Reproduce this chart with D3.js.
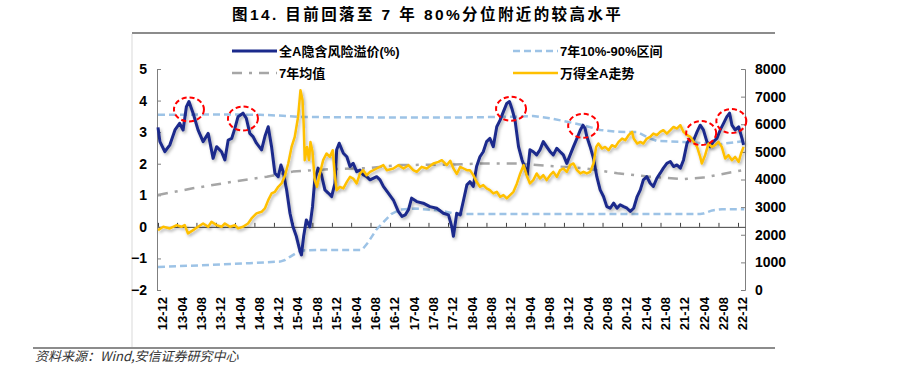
<!DOCTYPE html>
<html>
<head>
<meta charset="utf-8">
<script src="https://cdn.jsdelivr.net/npm/d3@7"></script>
<style>
body { margin: 0; background: #fff; }
text { font-family: "Liberation Sans", "Noto Sans CJK SC", sans-serif; }
</style>
</head>
<body>
<div id="chart"></div>
<script>
// 全A隐含风险溢价(%)
const premium = [
  ["2012-11-01",3.15],["2012-11-13",2.7],["2012-12-14",2.38],["2013-01-15",2.6],["2013-02-16",3.07],
  ["2013-03-17",3.28],["2013-04-08",3.07],["2013-04-29",3.81],["2013-05-15",3.97],["2013-06-10",3.6],
  ["2013-07-11",3.07],["2013-08-12",2.7],["2013-09-13",2.96],["2013-10-14",2.17],["2013-11-05",2.54],
  ["2013-12-06",2.38],["2013-12-27",2.12],["2014-01-17",2.75],["2014-02-08",2.8],["2014-02-28",3.12],
  ["2014-03-20",3.49],["2014-04-20",3.6],["2014-05-11",3.44],["2014-06-02",2.96],["2014-06-22",2.86],
  ["2014-07-14",2.65],["2014-08-15",2.44],["2014-09-05",2.86],["2014-09-26",3.17],["2014-10-17",2.54],
  ["2014-11-07",1.7],["2014-11-28",1.59],["2014-12-15",1.96],["2014-12-29",1.75],["2015-01-20",1.17],
  ["2015-02-10",0.43],["2015-03-01",0.0],["2015-03-22",-0.3],["2015-04-12",-0.73],["2015-04-23",-0.89],
  ["2015-05-07",-0.3],["2015-05-24",0.22],["2015-06-15",0.0],["2015-07-02",0.64],["2015-07-16",1.49],
  ["2015-08-06",1.86],["2015-08-27",1.65],["2015-09-18",1.17],["2015-10-09",1.07],["2015-10-30",0.96],
  ["2015-11-20",1.38],["2015-12-01",2.44],["2015-12-17",2.65],["2016-01-12",2.33],["2016-02-03",2.22],
  ["2016-02-23",1.91],["2016-03-14",2.01],["2016-04-05",1.75],["2016-04-26",1.8],["2016-05-16",1.65],
  ["2016-06-07",1.59],["2016-06-28",1.49],["2016-08-09",1.59],["2016-08-30",1.49],["2016-09-20",1.28],
  ["2016-10-21",1.07],["2016-11-22",0.85],["2016-12-23",0.49],["2017-01-15",0.33],["2017-02-05",0.38],
  ["2017-02-25",0.54],["2017-03-17",0.91],["2017-04-18",0.8],["2017-05-29",0.75],["2017-07-10",0.64],
  ["2017-08-22",0.59],["2017-10-03",0.43],["2017-11-04",0.38],["2017-11-25",0.0],["2017-12-05",-0.3],
  ["2017-12-26",0.43],["2018-01-17",0.38],["2018-02-07",0.85],["2018-02-28",1.33],["2018-03-19",1.43],
  ["2018-04-09",1.28],["2018-04-30",1.91],["2018-05-21",2.22],["2018-06-11",2.38],["2018-07-02",2.7],
  ["2018-07-23",2.8],["2018-08-13",2.54],["2018-09-04",3.17],["2018-09-25",3.38],["2018-10-16",3.65],
  ["2018-11-06",3.91],["2018-11-23",3.97],["2018-12-08",3.75],["2018-12-28",3.38],["2019-01-19",2.54],
  ["2019-02-10",2.12],["2019-03-01",1.86],["2019-03-15",1.65],["2019-04-01",2.44],["2019-04-22",2.38],
  ["2019-05-13",2.28],["2019-06-03",2.44],["2019-06-24",2.7],["2019-07-15",2.54],["2019-08-06",2.38],
  ["2019-08-26",2.28],["2019-09-17",2.49],["2019-10-08",2.38],["2019-10-28",2.28],["2019-11-19",2.01],
  ["2019-12-10",2.28],["2019-12-31",2.54],["2020-01-22",2.8],["2020-02-12",3.07],["2020-02-29",3.22],
  ["2020-03-13",3.12],["2020-03-24",2.86],["2020-04-14",2.54],["2020-05-05",2.17],["2020-05-26",1.59],
  ["2020-06-16",1.17],["2020-07-07",0.96],["2020-07-28",0.64],["2020-08-18",0.59],["2020-09-09",0.75],
  ["2020-09-30",0.59],["2020-10-20",0.7],["2020-11-11",0.64],["2020-12-02",0.59],["2020-12-23",0.49],
  ["2021-01-13",0.59],["2021-02-04",0.96],["2021-02-24",1.17],["2021-03-15",1.49],["2021-04-06",1.59],
  ["2021-04-27",1.38],["2021-05-17",1.28],["2021-06-08",1.54],["2021-06-29",1.7],["2021-07-19",1.86],
  ["2021-08-10",2.01],["2021-09-01",2.07],["2021-09-21",1.91],["2021-10-12",1.96],["2021-11-03",1.86],
  ["2021-11-23",2.12],["2021-12-15",2.65],["2022-01-05",2.8],["2022-01-26",2.75],["2022-02-16",3.01],
  ["2022-03-08",3.22],["2022-03-28",3.07],["2022-04-19",2.7],["2022-05-10",2.54],["2022-05-30",2.7],
  ["2022-06-21",2.8],["2022-07-12",3.07],["2022-08-02",3.28],["2022-08-23",3.49],["2022-09-09",3.6],
  ["2022-09-24",3.22],["2022-10-14",3.07],["2022-11-05",3.17],["2022-11-26",2.8],["2022-12-06",2.6]
];

// 7年10%-90%区间 上沿 / 下沿
const bandHigh = [
  ["2012-11-01",3.55],["2014-01-28",3.56],["2014-08-05",3.55],["2014-12-27",3.52],["2015-04-12",3.48],
  ["2016-02-23",3.47],["2017-11-15",3.46],["2019-01-11",3.49],["2019-04-20",3.51],["2019-08-06",3.44],
  ["2019-11-21",3.33],["2020-03-01",3.22],["2020-06-16",3.07],["2020-10-02",3.01],["2021-02-06",3.0],
  ["2021-04-27",2.8],["2021-06-10",2.72],["2022-01-05",2.68],["2022-07-12",2.62],["2022-12-10",2.72]
];
const bandLow = [
  ["2012-11-01",-1.27],["2013-07-21",-1.22],["2014-06-02",-1.15],["2014-12-09",-1.1],["2015-01-10",-1.05],
  ["2015-02-10",-0.95],["2015-03-24",-0.82],["2015-05-14",-0.74],["2015-10-19",-0.73],["2016-05-08",-0.73],
  ["2016-06-15",-0.5],["2016-08-05",-0.1],["2016-09-20",0.15],["2016-11-08",0.4],["2017-01-04",0.55],
  ["2017-04-07",0.58],["2017-09-13",0.52],["2017-12-16",0.41],["2020-06-16",0.41],["2022-03-08",0.41],
  ["2022-03-28",0.42],["2022-05-23",0.52],["2022-07-24",0.56],["2022-12-10",0.56]
];

// 7年均值
const mean7 = [
  ["2012-11-01",1.01],["2013-06-08",1.22],["2014-02-16",1.43],["2014-09-17",1.59],["2015-02-28",1.75],
  ["2015-10-19",1.83],["2016-06-09",1.86],["2017-01-04",1.96],["2017-11-15",1.97],["2018-06-11",2.01],
  ["2019-01-11",2.01],["2019-08-06",1.93],["2020-03-01",1.86],["2020-10-02",1.7],["2021-04-27",1.59],
  ["2021-11-23",1.51],["2022-03-28",1.56],["2022-12-06",1.8]
];

// 万得全A走势 (右轴)
const windA = [
  ["2012-11-01",2169],["2012-12-04",2289],["2013-01-15",2229],["2013-02-27",2350],["2013-03-28",2289],
  ["2013-04-18",2350],["2013-05-09",2048],["2013-06-10",2169],["2013-07-11",2289],["2013-08-12",2410],
  ["2013-09-13",2289],["2013-10-04",2470],["2013-11-05",2350],["2013-12-06",2289],["2013-12-27",2410],
  ["2014-01-28",2289],["2014-02-28",2350],["2014-03-20",2229],["2014-04-20",2289],["2014-05-22",2410],
  ["2014-06-13",2591],["2014-07-14",2772],["2014-08-15",2831],["2014-09-05",2952],["2014-09-26",3254],
  ["2014-10-17",3495],["2014-11-07",3555],["2014-11-28",3736],["2014-12-19",3857],["2015-01-10",4157],
  ["2015-01-30",4580],["2015-02-20",5180],["2015-03-12",5542],["2015-04-02",6265],["2015-04-17",7230],
  ["2015-04-30",6869],["2015-05-07",6026],["2015-05-14",4700],["2015-05-28",5180],["2015-06-10",4700],
  ["2015-06-19",5361],["2015-07-02",5000],["2015-07-16",3977],["2015-07-30",3736],["2015-08-17",4218],
  ["2015-09-07",4700],["2015-09-28",4941],["2015-10-19",4820],["2015-11-06",5061],["2015-11-20",4096],
  ["2015-12-01",3615],["2015-12-21",3736],["2016-01-12",3676],["2016-02-03",3916],["2016-02-23",4096],
  ["2016-03-14",4036],["2016-04-05",3857],["2016-04-26",4218],["2016-05-16",4338],["2016-06-07",4157],
  ["2016-06-28",4277],["2016-08-09",4398],["2016-09-20",4519],["2016-10-11",4338],["2016-11-22",4398],
  ["2016-12-23",4519],["2017-01-25",4398],["2017-02-25",4519],["2017-03-27",4338],["2017-04-18",4277],
  ["2017-05-19",4458],["2017-06-20",4398],["2017-08-01",4580],["2017-09-02",4639],["2017-09-23",4700],
  ["2017-10-24",4519],["2017-11-15",4680],["2017-12-05",4400],["2017-12-26",4200],["2018-01-17",4458],
  ["2018-02-07",4398],["2018-02-28",4338],["2018-03-19",4338],["2018-04-09",4157],["2018-04-30",3916],
  ["2018-05-21",3736],["2018-06-11",3796],["2018-07-02",3676],["2018-07-23",3615],["2018-08-13",3495],
  ["2018-09-04",3555],["2018-09-25",3374],["2018-10-16",3434],["2018-11-06",3314],["2018-11-27",3434],
  ["2018-12-18",3555],["2019-01-09",3857],["2019-01-30",4218],["2019-02-20",4519],["2019-03-11",4157],
  ["2019-04-01",3857],["2019-04-22",3977],["2019-05-13",4218],["2019-06-03",4036],["2019-06-24",4157],
  ["2019-07-15",3977],["2019-08-06",4157],["2019-08-26",4277],["2019-09-17",4096],["2019-10-08",4338],
  ["2019-10-28",4398],["2019-11-19",4277],["2019-12-10",4519],["2019-12-31",4580],["2020-01-22",4338],
  ["2020-02-12",4218],["2020-03-03",4277],["2020-03-24",4218],["2020-04-14",4277],["2020-05-05",4580],
  ["2020-05-22",5180],["2020-06-05",5301],["2020-06-27",5120],["2020-07-17",5180],["2020-08-08",5061],
  ["2020-08-29",5241],["2020-09-19",5180],["2020-10-10",5361],["2020-11-01",5482],["2020-11-21",5422],
  ["2020-12-12",5603],["2021-01-03",5723],["2021-01-13",5482],["2021-02-04",5301],["2021-02-24",5361],
  ["2021-03-15",5301],["2021-04-06",5482],["2021-04-27",5542],["2021-05-17",5663],["2021-06-08",5603],
  ["2021-06-29",5723],["2021-07-19",5784],["2021-08-10",5663],["2021-09-01",5784],["2021-09-21",5904],
  ["2021-10-12",5844],["2021-11-03",5965],["2021-11-23",5723],["2021-12-15",5603],["2022-01-05",5542],
  ["2022-01-26",5361],["2022-02-16",5180],["2022-03-08",4819],["2022-03-18",4580],["2022-04-08",4880],
  ["2022-04-29",5301],["2022-05-20",5180],["2022-06-10",5241],["2022-07-01",5361],["2022-07-22",5180],
  ["2022-08-12",4760],["2022-09-02",4880],["2022-09-24",4700],["2022-10-14",4820],["2022-11-05",4639],
  ["2022-11-20",4941],["2022-12-06",5180]
];

// 红色虚线圈标注的高点 (圈中心的日期与左轴数值)
const highlights = [
  ["2013-05-15",3.72],["2014-04-20",3.43],["2018-12-03",3.74],
  ["2020-03-01",3.2],["2022-03-14",2.97],["2022-09-20",3.35]
];

const leftTicks = [-2, -1, 0, 1, 2, 3, 4, 5];
const rightTicks = [0, 1000, 2000, 3000, 4000, 5000, 6000, 7000, 8000];
const xLabels = ["12-12","13-04","13-08","13-12","14-04","14-08","14-12","15-04","15-08","15-12",
  "16-04","16-08","16-12","17-04","17-08","17-12","18-04","18-08","18-12","19-04","19-08","19-12",
  "20-04","20-08","20-12","21-04","21-08","21-12","22-04","22-08","22-12"];

const titleText = "图14. 目前回落至 7 年 80%分位附近的较高水平";
const sourceText = "资料来源：Wind,安信证券研究中心";
const legendItems = [
  { name: "全A隐含风险溢价(%)", key: "premium" },
  { name: "7年10%-90%区间", key: "band" },
  { name: "7年均值", key: "mean" },
  { name: "万得全A走势", key: "windA" }
];

const WIDTH = 912, HEIGHT = 370;
const styles = {
  premium: { color: "#1B2A8C", width: 3, dash: null },
  band: { color: "#9DC3E6", width: 2.5, dash: "7,4" },
  mean: { color: "#A6A6A6", width: 2.5, dash: "10,7,3,7" },
  windA: { color: "#FFC000", width: 2.5, dash: null }
};

const parse = d3.timeParse("%Y-%m-%d");

const svg = d3.select("#chart").append("svg")
  .attr("width", WIDTH).attr("height", HEIGHT);

// 阴影效果
const defs = svg.append("defs");
defs.append("filter").attr("id", "shadow")
  .attr("x", "-5%").attr("y", "-5%").attr("width", "115%").attr("height", "125%")
  .append("feDropShadow")
  .attr("dx", 1.5).attr("dy", 2).attr("stdDeviation", 1.4)
  .attr("flood-color", "#000").attr("flood-opacity", 0.3);

// 比例尺
const x = d3.scaleTime()
  .domain([parse("2012-11-01"), parse("2022-12-15")])
  .range([158, 745]);
const yL = d3.scaleLinear().domain([-2, 5]).range([290, 69]);
const yR = d3.scaleLinear().domain([0, 8000]).range([290, 69]);

// 标题与边框
svg.append("text")
  .attr("x", 232).attr("y", 20)
  .attr("font-size", 15.5).attr("font-weight", "bold")
  .attr("letter-spacing", 2.4)
  .text(titleText);

svg.append("line").attr("x1", 132).attr("x2", 775).attr("y1", 33).attr("y2", 33)
  .attr("stroke", "#8c8c8c").attr("stroke-width", 2);
svg.append("line").attr("x1", 132).attr("x2", 132).attr("y1", 34).attr("y2", 347)
  .attr("stroke", "#d9d9d9").attr("stroke-width", 1);
svg.append("line").attr("x1", 33).attr("x2", 775).attr("y1", 348).attr("y2", 348)
  .attr("stroke", "#8c8c8c").attr("stroke-width", 2);

svg.append("text")
  .attr("x", 35).attr("y", 361)
  .attr("font-size", 13).attr("font-style", "italic")
  .attr("fill", "#333")
  .style("font-family", "'Noto Sans CJK SC', sans-serif")
  .text(sourceText);

// 坐标轴
const axisColor = "#7f7f7f";
const gl = svg.append("g").attr("transform", "translate(157,0)")
  .call(d3.axisLeft(yL).tickValues(leftTicks).tickFormat(d3.format("d"))
    .tickSize(-4).tickSizeOuter(-4).tickPadding(10));
const gr = svg.append("g").attr("transform", "translate(745,0)")
  .call(d3.axisRight(yR).tickValues(rightTicks).tickFormat(d3.format("d"))
    .tickSize(-4).tickSizeOuter(-4).tickPadding(10));
[gl, gr].forEach(g => {
  g.selectAll("path, line").attr("stroke", axisColor);
  g.selectAll("text").attr("font-size", 14).attr("font-weight", "bold")
    .attr("fill", "#000").style("font-family", "'Liberation Sans', sans-serif");
});

// 零轴与刻度
const tickDates = xLabels.map(l => d3.timeMonth.offset(parse("20" + l + "-01"), -1));
const gx = svg.append("g").attr("transform", `translate(0,${yL(0)})`)
  .call(d3.axisBottom(x).tickValues(tickDates).tickFormat("")
    .tickSize(-4).tickSizeOuter(0));
gx.selectAll("path, line").attr("stroke", "#404040");

// 横轴标签
svg.append("g").selectAll("text")
  .data(xLabels)
  .join("text")
  .attr("transform", d => `translate(${x(parse("20" + d + "-01"))},297) rotate(-90)`)
  .attr("text-anchor", "end")
  .attr("dy", "0.35em")
  .attr("font-size", 13).attr("font-weight", "bold")
  .text(d => d);

// 线条
const lineL = d3.line().x(d => x(parse(d[0]))).y(d => yL(d[1]));
const lineR = d3.line().x(d => x(parse(d[0]))).y(d => yR(d[1]));

function drawLine(data, gen, s, shadow) {
  const p = svg.append("path").datum(data)
    .attr("fill", "none")
    .attr("stroke", s.color)
    .attr("stroke-width", s.width)
    .attr("stroke-linejoin", "round")
    .attr("d", gen);
  if (s.dash) p.attr("stroke-dasharray", s.dash);
  if (shadow) p.attr("filter", "url(#shadow)");
}

drawLine(bandHigh, lineL, styles.band, false);
drawLine(bandLow, lineL, styles.band, false);
drawLine(mean7, lineL, styles.mean, false);
drawLine(premium, lineL, styles.premium, true);
drawLine(windA, lineR, styles.windA, true);

// 红色虚线圈
svg.append("g").selectAll("ellipse")
  .data(highlights)
  .join("ellipse")
  .attr("cx", d => x(parse(d[0])))
  .attr("cy", d => yL(d[1]))
  .attr("rx", 15).attr("ry", 12)
  .attr("fill", "none")
  .attr("stroke", "#FF0000")
  .attr("stroke-width", 2)
  .attr("stroke-dasharray", "5,3");

// 图例
const legendPos = [[232, 51], [513, 51], [232, 73], [513, 73]];
const lg = svg.append("g").selectAll("g")
  .data(legendItems)
  .join("g")
  .attr("transform", (d, i) => `translate(${legendPos[i][0]},${legendPos[i][1]})`);
lg.append("line")
  .attr("x1", 0).attr("x2", 45).attr("y1", 0).attr("y2", 0)
  .attr("stroke", d => styles[d.key].color)
  .attr("stroke-width", d => styles[d.key].width)
  .attr("stroke-dasharray", d => styles[d.key].dash);
lg.append("text")
  .attr("x", 47).attr("dy", "0.35em")
  .attr("font-size", 13).attr("font-weight", "bold")
  .text(d => d.name);
</script>
</body>
</html>
